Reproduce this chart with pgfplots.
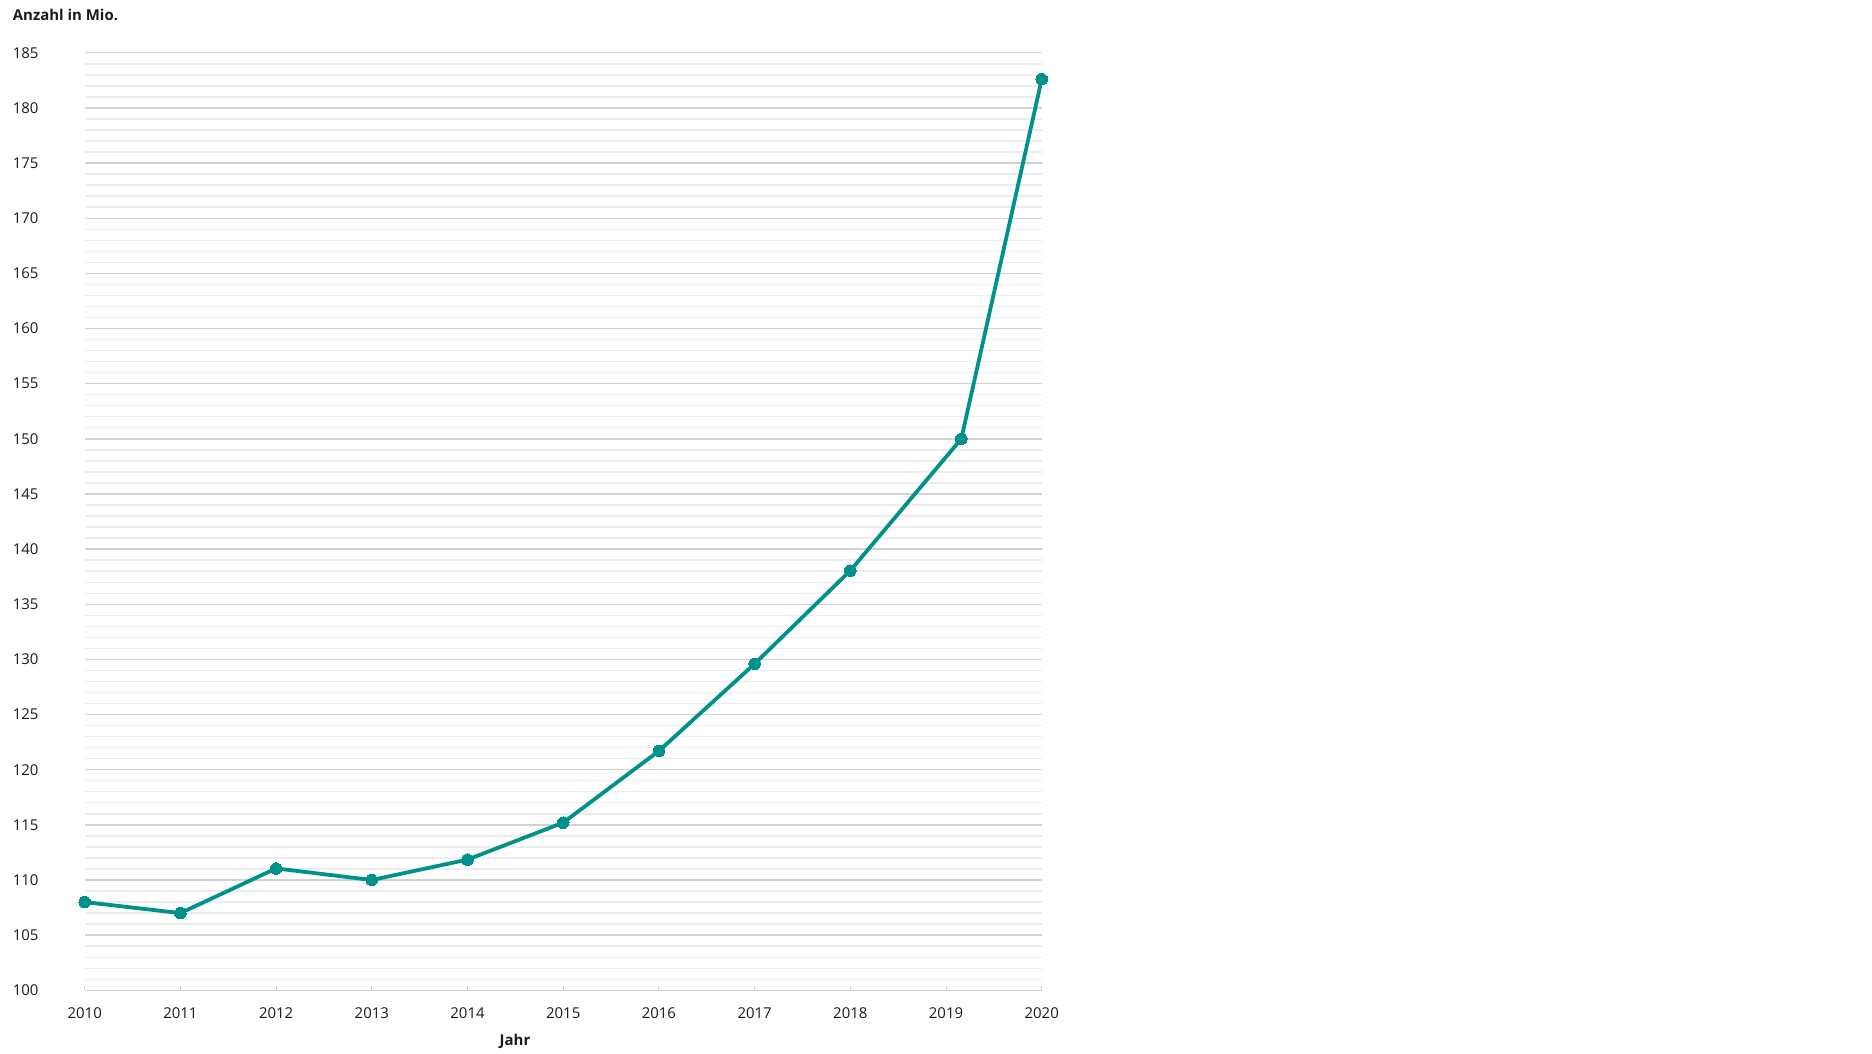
\documentclass[border=0pt]{standalone}
\usepackage{fontspec}
\setmainfont{Open Sans}
\usepackage{pgfplots}
\pgfplotsset{compat=1.18}
\definecolor{teal1}{HTML}{00928A}
\definecolor{majgrid}{HTML}{D2D2D2}
\definecolor{mingrid}{HTML}{EDEDED}
\definecolor{txt}{HTML}{1A1A1A}
\begin{document}
\begin{tikzpicture}[x=1bp,y=1bp]
\path[use as bounding box] (0,0) rectangle (1872,1053);
\begin{axis}[
  at={(84.7bp,62.7bp)}, anchor=south west,
  scale only axis, width=957bp, height=937.5bp,
  xmin=2010, xmax=2020, ymin=100, ymax=185, clip=false,
  xtick={2010,2011,...,2020}, ytick={100,105,...,185},
  minor ytick={100,101,...,185},
  ymajorgrids, yminorgrids,
  major grid style={draw=majgrid, line width=1.4bp},
  minor grid style={draw=mingrid, line width=1.4bp},
  axis x line*=bottom, axis y line*=left,
  x axis line style={draw=majgrid, line width=1.4bp, -},
  y axis line style={draw=none},
  ytick style={draw=none},
  minor tick length=0pt,
  xtick style={draw=majgrid, line width=1bp},
  tick align=inside, major tick length=4bp,
  /pgf/number format/.cd, 1000 sep={}, assume math mode=true, /pgfplots/.cd,
  ticklabel style={font=\fontsize{15}{18}\selectfont, text=txt, inner sep=0pt},
  xticklabel style={anchor=north, yshift=-17.4bp},
  yticklabel style={anchor=west, xshift=-72bp},
]
\addplot[teal1, line width=3.8bp, mark=*, mark size=5.8bp, mark options={fill=teal1, draw=teal1, line width=0pt}]
coordinates {
(2010,108.0) (2011,107.0) (2012,111.05) (2013,110.0) (2014,111.85)
(2015,115.2) (2016,121.7) (2017,129.6) (2018,138.05) (2019.16,150.0) (2020,182.6)
};
\end{axis}
\node[anchor=base west, inner sep=0pt, text=txt, font=\bfseries\fontsize{15}{18}\selectfont] at (12.7,1032) {Anzahl in Mio.};
\node[anchor=base, inner sep=0pt, text=txt, font=\bfseries\fontsize{15}{18}\selectfont] at (515,8) {Jahr};
\end{tikzpicture}
\end{document}
